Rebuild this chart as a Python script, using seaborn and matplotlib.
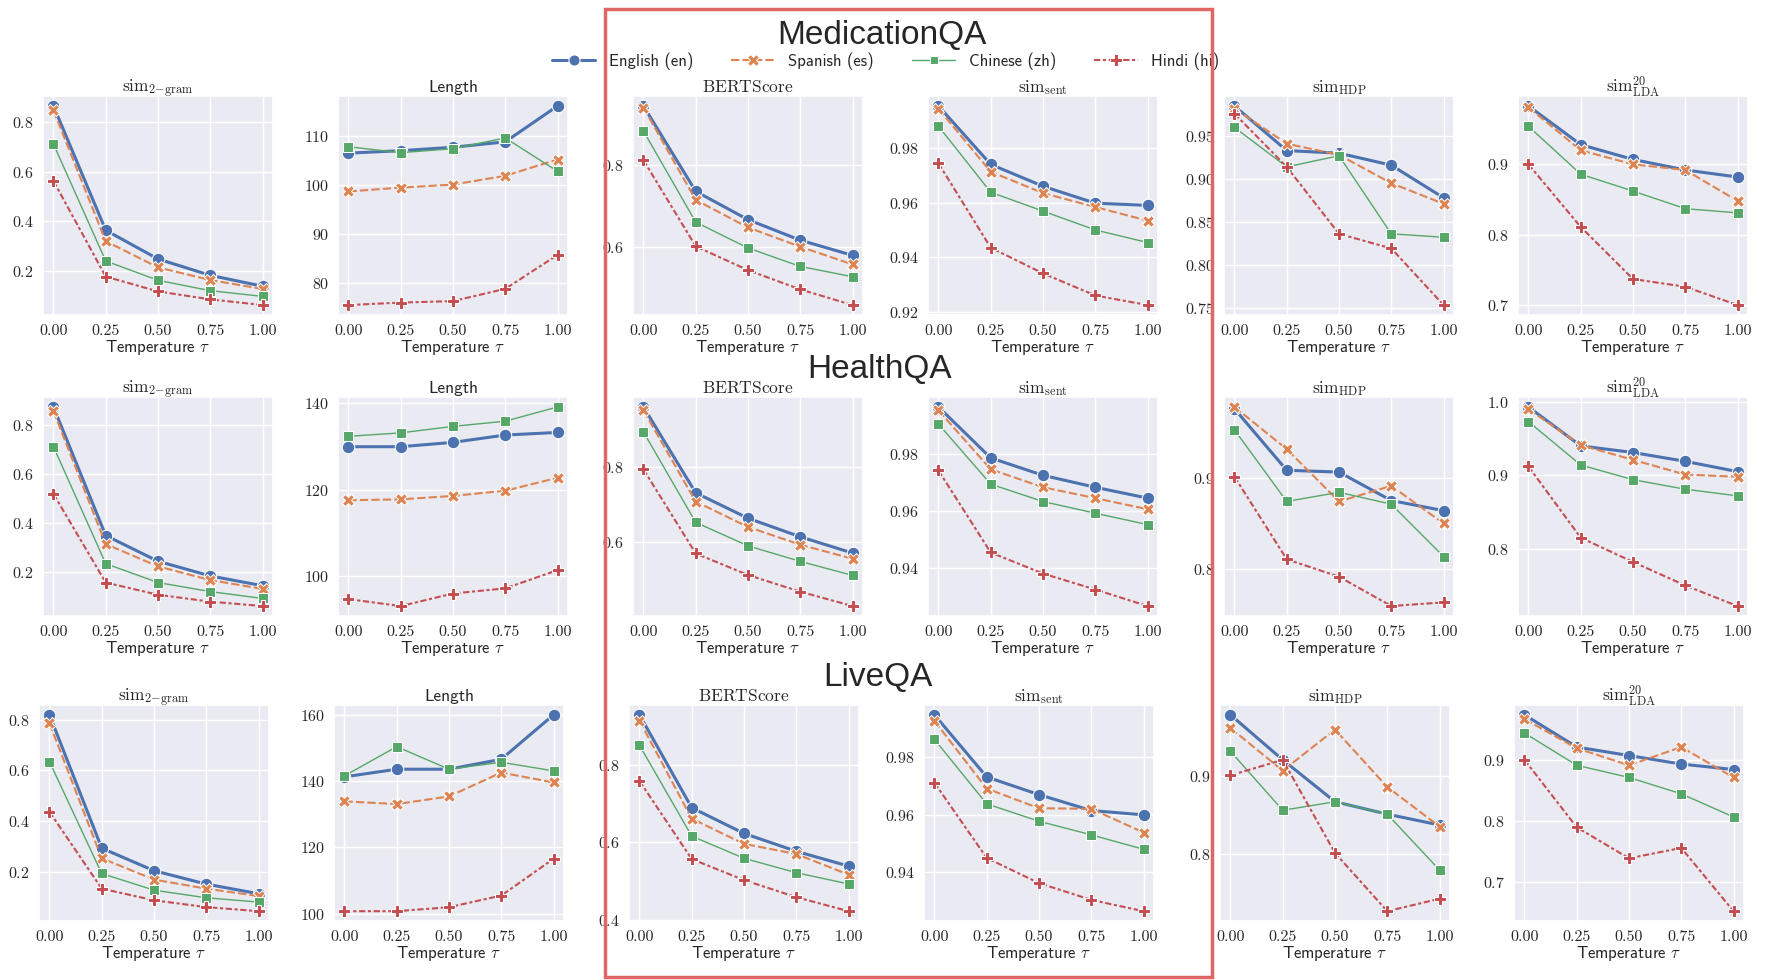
import matplotlib.pyplot as plt
import seaborn as sns
from matplotlib.patches import Rectangle
from matplotlib.lines import Line2D
from matplotlib.ticker import MultipleLocator

temps = [0.0, 0.25, 0.5, 0.75, 1.0]
langs = ['English (en)', 'Spanish (es)', 'Chinese (zh)', 'Hindi (hi)']
datasets = ['MedicationQA', 'HealthQA', 'LiveQA']
metric_titles = [r'$\mathrm{sim}_{2\mathrm{-gram}}$', 'Length', r'$\mathrm{BERTScore}$',
                 r'$\mathrm{sim}_{\mathrm{sent}}$', r'$\mathrm{sim}_{\mathrm{HDP}}$',
                 r'$\mathrm{sim}^{20}_{\mathrm{LDA}}$']

# each array: rows = en, es, zh, hi ; columns = temperature 0 .. 1
med_ngram = [[0.866, 0.364, 0.248, 0.182, 0.138],
             [0.848, 0.320, 0.214, 0.163, 0.127],
             [0.712, 0.240, 0.162, 0.120, 0.097],
             [0.563, 0.177, 0.117, 0.085, 0.062]]
med_length = [[106.5, 107.0, 107.7, 108.8, 116.1],
              [98.7, 99.5, 100.1, 101.9, 105.2],
              [107.8, 106.6, 107.4, 109.6, 102.8],
              [75.6, 76.1, 76.4, 78.9, 85.8]]
med_bert = [[0.944, 0.736, 0.667, 0.617, 0.580],
            [0.940, 0.715, 0.648, 0.601, 0.558],
            [0.883, 0.661, 0.598, 0.553, 0.528],
            [0.812, 0.602, 0.544, 0.497, 0.459]]
med_sent = [[0.9954, 0.9740, 0.9660, 0.9598, 0.9590],
            [0.9944, 0.9713, 0.9635, 0.9584, 0.9534],
            [0.9880, 0.9638, 0.9569, 0.9500, 0.9454],
            [0.9744, 0.9435, 0.9341, 0.9260, 0.9225]]
med_hdp = [[0.985, 0.933, 0.930, 0.916, 0.878],
           [0.982, 0.941, 0.928, 0.895, 0.871],
           [0.960, 0.914, 0.927, 0.836, 0.832],
           [0.976, 0.914, 0.836, 0.819, 0.753]]
med_lda = [[0.983, 0.928, 0.907, 0.892, 0.882],
           [0.981, 0.920, 0.900, 0.892, 0.848],
           [0.954, 0.886, 0.862, 0.837, 0.831],
           [0.900, 0.811, 0.737, 0.726, 0.700]]

hea_ngram = [[0.875, 0.350, 0.245, 0.185, 0.145],
             [0.858, 0.315, 0.224, 0.168, 0.132],
             [0.713, 0.235, 0.158, 0.121, 0.093],
             [0.520, 0.158, 0.108, 0.080, 0.062]]
hea_length = [[130.0, 130.0, 131.0, 132.7, 133.3],
              [117.6, 117.8, 118.6, 119.8, 122.8],
              [132.4, 133.2, 134.7, 135.9, 139.2],
              [94.7, 93.1, 96.0, 97.2, 101.4]]
hea_bert = [[0.958, 0.731, 0.664, 0.615, 0.572],
            [0.949, 0.708, 0.641, 0.594, 0.557],
            [0.892, 0.653, 0.591, 0.550, 0.513],
            [0.793, 0.571, 0.514, 0.470, 0.432]]
hea_sent = [[0.9965, 0.9786, 0.9725, 0.9683, 0.9645],
            [0.9953, 0.9746, 0.9683, 0.9645, 0.9606],
            [0.9905, 0.9694, 0.9633, 0.9592, 0.9552],
            [0.9742, 0.9454, 0.9380, 0.9324, 0.9266]]
hea_hdp = [[0.975, 0.908, 0.906, 0.875, 0.864],
           [0.977, 0.931, 0.874, 0.891, 0.850],
           [0.952, 0.874, 0.884, 0.871, 0.814],
           [0.901, 0.811, 0.792, 0.760, 0.764]]
hea_lda = [[0.993, 0.940, 0.931, 0.919, 0.905],
           [0.990, 0.941, 0.921, 0.901, 0.898],
           [0.973, 0.914, 0.894, 0.881, 0.872],
           [0.912, 0.815, 0.782, 0.750, 0.722]]

live_ngram = [[0.820, 0.293, 0.204, 0.151, 0.113],
              [0.787, 0.253, 0.169, 0.133, 0.104],
              [0.635, 0.193, 0.127, 0.097, 0.080],
              [0.437, 0.133, 0.087, 0.060, 0.044]]
live_length = [[141.3, 143.6, 143.6, 146.6, 160.0],
               [133.9, 133.1, 135.4, 142.6, 139.6],
               [141.6, 150.4, 143.6, 145.7, 143.1],
               [100.8, 100.8, 102.0, 105.5, 116.6]]
live_bert = [[0.928, 0.689, 0.623, 0.577, 0.539],
             [0.913, 0.661, 0.596, 0.570, 0.517],
             [0.850, 0.616, 0.559, 0.522, 0.493],
             [0.758, 0.557, 0.503, 0.459, 0.423]]
live_sent = [[0.9945, 0.9730, 0.9669, 0.9614, 0.9599],
             [0.9924, 0.9690, 0.9622, 0.9620, 0.9538],
             [0.9860, 0.9637, 0.9577, 0.9530, 0.9480],
             [0.9710, 0.9450, 0.9363, 0.9305, 0.9266]]
live_hdp = [[0.979, 0.921, 0.867, 0.851, 0.837],
            [0.962, 0.907, 0.960, 0.886, 0.835],
            [0.932, 0.856, 0.867, 0.851, 0.779],
            [0.901, 0.921, 0.801, 0.726, 0.742]]
live_lda = [[0.975, 0.922, 0.908, 0.894, 0.885],
            [0.968, 0.920, 0.892, 0.922, 0.872],
            [0.945, 0.892, 0.872, 0.845, 0.807],
            [0.901, 0.790, 0.739, 0.756, 0.652]]

panels = [[med_ngram, med_length, med_bert, med_sent, med_hdp, med_lda],
          [hea_ngram, hea_length, hea_bert, hea_sent, hea_hdp, hea_lda],
          [live_ngram, live_length, live_bert, live_sent, live_hdp, live_lda]]
ysteps = [[0.2, 10, 0.2, 0.02, 0.05, 0.1],
          [0.2, 20, 0.2, 0.02, 0.1, 0.1],
          [0.2, 20, 0.2, 0.02, 0.1, 0.1]]

sns.set_theme(style='darkgrid')
plt.rcParams['font.family'] = ['cmr10', 'DejaVu Sans']
plt.rcParams['mathtext.fontset'] = 'cm'
plt.rcParams['axes.formatter.use_mathtext'] = True

colors = sns.color_palette('deep')[:4]
markers = ['o', 'X', 's', 'P']
styles = ['-', (0, (4, 1.5)), '-', (0, (3, 1.25, 1.5, 1.25))]
widths = [2.2, 1.5, 1.0, 1.5]
msizes = [9, 9, 6.5, 9]

W, H = 1768, 980
fig = plt.figure(figsize=(W / 100, H / 100), dpi=100)

col_left = [43, 338, 633, 928, 1224, 1518]
row_box = [(96, 315), (397, 616), (705, 921)]
row_shift = [0, 0, -4]

for r in range(3):
    top, bot = row_box[r]
    for c in range(6):
        ax = fig.add_axes([(col_left[c] + row_shift[r]) / W, 1 - bot / H, 230 / W, (bot - top) / H])
        for i in range(4):
            sns.lineplot(x=temps, y=panels[r][c][i], ax=ax, color=colors[i],
                         marker=markers[i], linestyle=styles[i], linewidth=widths[i],
                         markersize=msizes[i], errorbar=None)
        ax.set_xticks(temps)
        ax.set_xticklabels(['0.00', '0.25', '0.50', '0.75', '1.00'])
        ax.yaxis.set_major_locator(MultipleLocator(ysteps[r][c]))
        ax.tick_params(labelsize=11.5, pad=0.5)
        ax.set_xlabel(r'Temperature $\tau$', family='cmss10', fontsize=12, labelpad=0)
        ax.set_ylabel('')
        if c == 1:
            ax.set_title(metric_titles[c], family='cmss10', fontsize=12.5, pad=3)
        else:
            ax.set_title(metric_titles[c], fontsize=12.5, pad=3)

title_pos = [(882, 35), (880, 370), (878, 678)]
for name, (x, y) in zip(datasets, title_pos):
    fig.text(x / W, 1 - y / H, name, ha='center', va='center', fontsize=24,
             family='Liberation Sans')

handles = [Line2D([], [], color=colors[i], marker=markers[i], linestyle=styles[i],
                  linewidth=widths[i], markersize=msizes[i] - 1, markeredgecolor='w',
                  markeredgewidth=0.75) for i in range(4)]
fig.legend(handles, langs, loc='center left', bbox_to_anchor=(552 / W, 1 - 61 / H),
           ncol=4, frameon=False, prop={'family': 'cmss10', 'size': 12},
           handlelength=2.6, columnspacing=2.3, handletextpad=0.8, borderpad=0, borderaxespad=0)

fig.add_artist(Rectangle((605 / W, 3 / H), 607 / W, 968 / H, transform=fig.transFigure,
                         fill=False, edgecolor='#E06666', linewidth=2.5, zorder=20))

fig.savefig('out.png', dpi=100)
